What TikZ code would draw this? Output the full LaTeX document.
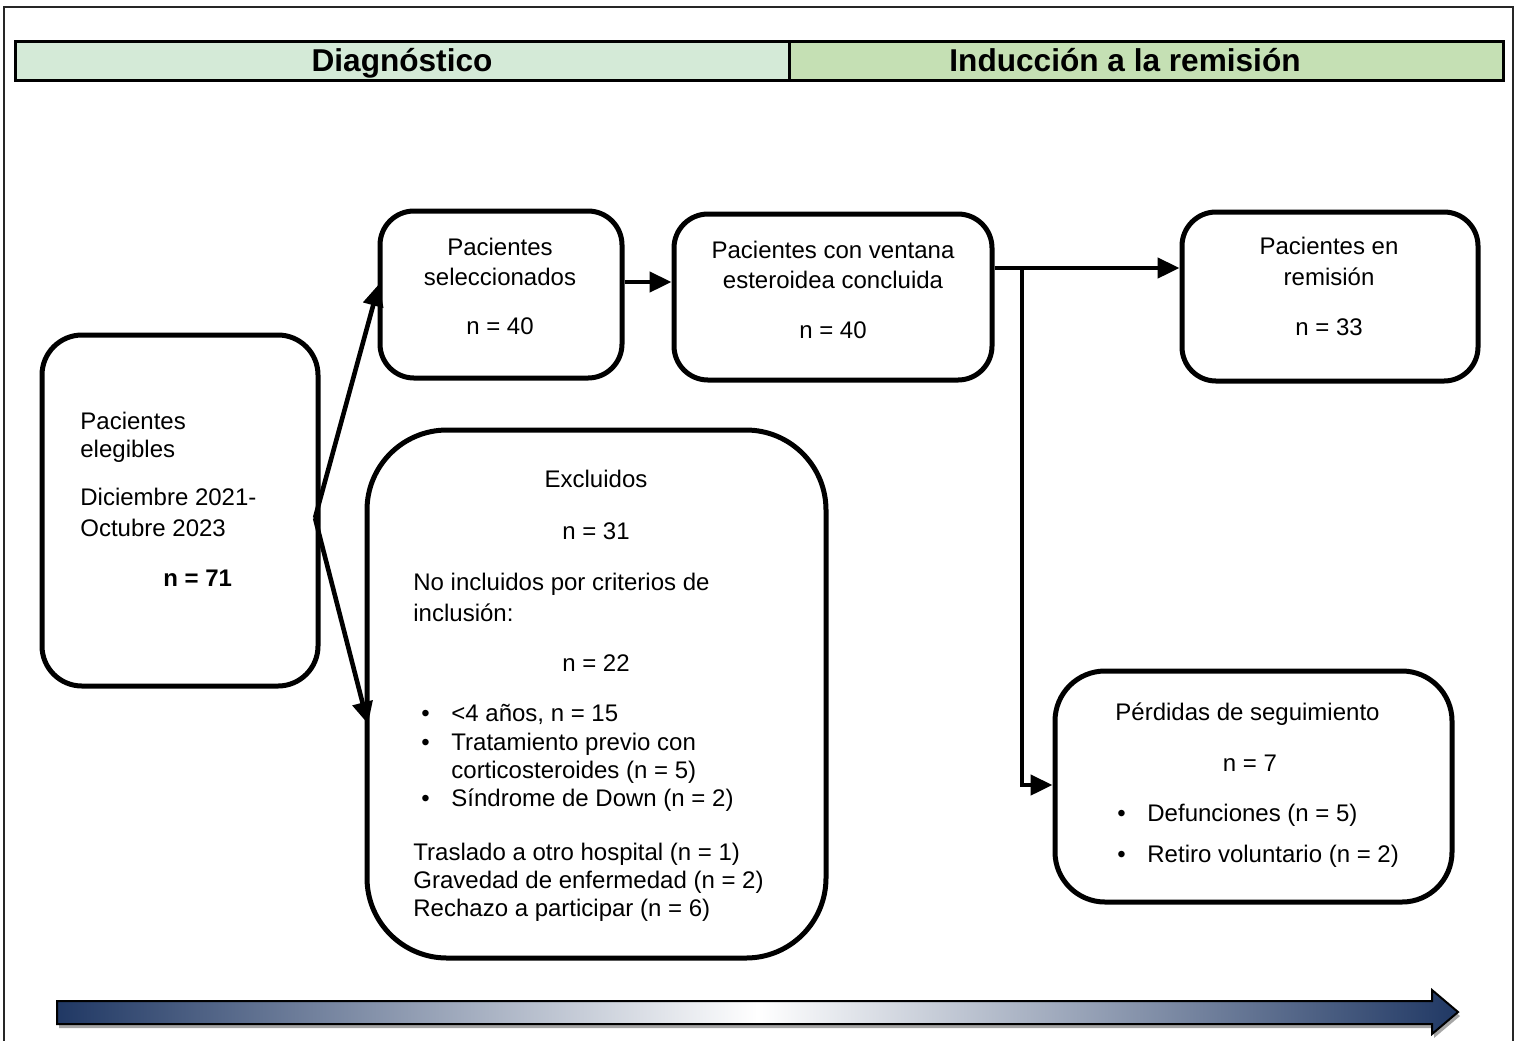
\documentclass[tikz,border=0pt]{standalone}
\usepackage{fontspec}
\setmainfont{Liberation Sans}
\usetikzlibrary{arrows.meta}
\definecolor{hdrA}{HTML}{D4EAD7}
\definecolor{hdrB}{HTML}{C5E0B4}
\definecolor{navy}{HTML}{203864}
\newcommand{\bodyfs}{\fontsize{12pt}{14.2pt}\selectfont}
\newcommand{\hdrfs}{\fontsize{15.8pt}{18pt}\selectfont\bfseries}
\tikzset{
  box/.style={draw, line width=2.5pt, rounded corners=#1, inner sep=0pt},
  box/.default=17pt,
  hdr/.style={draw, line width=1.5pt, inner sep=0pt},
  htxt/.style={font=\hdrfs, inner sep=0pt, anchor=base},
  ltxt/.style={font=\bodyfs, inner sep=0pt, anchor=mid west, align=left},
  ctxt/.style={font=\bodyfs, inner sep=0pt, anchor=mid, align=center},
  arr/.style={line width=2.3pt, -{Triangle[length=11pt,width=10pt]}},
}
\begin{document}
\begin{tikzpicture}[x=0.5pt,y=-0.5pt]
\useasboundingbox (0,0) rectangle (1519,1040);
% outer frame
\draw[line width=1pt, black!85] (4,7) rectangle (1513,1060);
% header
\node[hdr, fill=hdrA, minimum width=387pt, minimum height=19.5pt] (hd1) at (402,60.5) {};
\node[hdr, fill=hdrB, minimum width=357pt, minimum height=19.5pt] (hd2) at (1146,60.5) {};
\node[htxt] (hd1t) at (402,71) {Diagnóstico};
\node[htxt] (hd2t) at (1125,71) {Inducción a la remisión};
% boxes
\node[box=20pt, minimum width=138pt, minimum height=175.5pt] (elig) at (180,510.5) {};
\node[box, minimum width=121pt, minimum height=83.5pt] (sel) at (501,294.5) {};
\node[box, minimum width=159pt, minimum height=83pt] (vent) at (833,297) {};
\node[box, minimum width=148pt, minimum height=84.5pt] (rem) at (1330,296.5) {};
\node[box=40pt, minimum width=229.5pt, minimum height=264pt] (excl) at (596.5,694) {};
\node[box=25pt, minimum width=198.5pt, minimum height=115.5pt] (perd) at (1253.5,786.5) {};
% elegibles text
\node[ltxt] (e1) at (80,424) {Pacientes};
\node[ltxt] (e2) at (80,452) {elegibles};
\node[ltxt] (e3) at (80,500) {Diciembre 2021-};
\node[ltxt] (e4) at (80,531) {Octubre 2023};
\node[ltxt, font=\bodyfs\bfseries] (e5) at (163,581) {n = 71};
% seleccionados
\node[ctxt] (s1) at (500,250) {Pacientes};
\node[ctxt] (s2) at (500,280) {seleccionados};
\node[ctxt] (s3) at (500,329) {n = 40};
% ventana
\node[ctxt] (v1) at (833,253) {Pacientes con ventana};
\node[ctxt] (v2) at (833,283) {esteroidea concluida};
\node[ctxt] (v3) at (833,333) {n = 40};
% remision
\node[ctxt] (r1) at (1329,249) {Pacientes en};
\node[ctxt] (r2) at (1329,280) {remisión};
\node[ctxt] (r3) at (1329,330) {n = 33};
% excluidos
\node[ctxt] (x1) at (596,482) {Excluidos};
\node[ctxt] (x2) at (596,534) {n = 31};
\node[ltxt] (x3) at (413,585) {No incluidos por criterios de};
\node[ltxt] (x4) at (413,616) {inclusión:};
\node[ctxt] (x5) at (596,666) {n = 22};
\node[ltxt] (xb1) at (421,716) {•};
\node[ltxt] (xb2) at (421,745) {•};
\node[ltxt] (xb3) at (421,801) {•};
\node[ltxt] (xi1) at (451,716) {<4 años, n = 15};
\node[ltxt] (xi2) at (451,745) {Tratamiento previo con};
\node[ltxt] (xi3) at (451,773) {corticosteroides (n = 5)};
\node[ltxt] (xi4) at (451,801) {Síndrome de Down (n = 2)};
\node[ltxt] (x6) at (413,855) {Traslado a otro hospital (n = 1)};
\node[ltxt] (x7) at (413,883) {Gravedad de enfermedad (n = 2)};
\node[ltxt] (x8) at (413,911) {Rechazo a participar (n = 6)};
% perdidas
\node[ltxt] (p1) at (1115,715) {Pérdidas de seguimiento};
\node[ctxt] (p2) at (1250,766) {n = 7};
\node[ltxt] (pb1) at (1117,816) {•};
\node[ltxt] (pb2) at (1117,857) {•};
\node[ltxt] (pi1) at (1147,816) {Defunciones (n = 5)};
\node[ltxt] (pi2) at (1147,857) {Retiro voluntario (n = 2)};
% connectors
\coordinate (fork) at (315,518);
\coordinate (selin) at (379,284);
\coordinate (exin) at (368,724);
\coordinate (branch) at (1022,268);
\coordinate (bend) at (1022,785);
\draw[arr] (fork) -- (selin);
\draw[arr] (fork) -- (exin);
\draw[arr] (sel.east |- 0,282) -- (vent.west |- 0,282);
\draw[arr] (vent.east |- 0,268) -- (rem.west |- 0,268);
\draw[arr, line join=miter] (branch) -- (bend) -- (perd.west |- bend);
% bottom timeline arrow
\fill[black!35] (59,1005) -- (1434,1005) -- (1434,994) -- (1460,1016) -- (1434,1038) -- (1434,1028) -- (59,1028) -- cycle;
\draw[line width=1pt, left color=navy, right color=navy, middle color=white]
  (57,1001) -- (1432,1001) -- (1432,990) -- (1458,1012) -- (1432,1034) -- (1432,1024) -- (57,1024) -- cycle;
\end{tikzpicture}
\end{document}
